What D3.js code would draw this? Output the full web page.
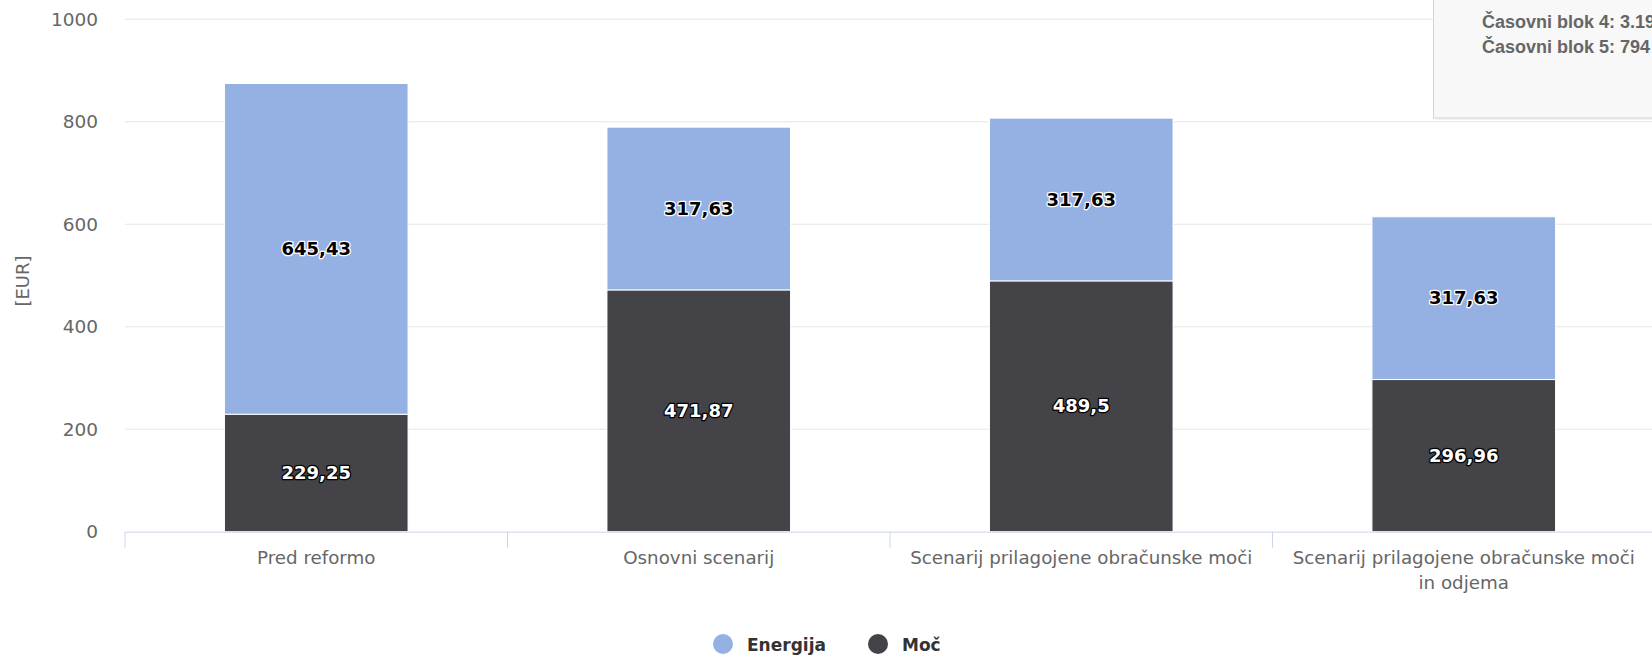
<!DOCTYPE html>
<html>
<head>
<meta charset="utf-8">
<script src="https://cdn.jsdelivr.net/npm/d3@7/dist/d3.min.js"></script>
<style>
  body { margin: 0; background: #ffffff; overflow: hidden; }
  svg { display: block; }
</style>
</head>
<body>
<script>
"use strict";

var categories = [
  "Pred reformo",
  "Osnovni scenarij",
  "Scenarij prilagojene obračunske moči",
  "Scenarij prilagojene obračunske moči in odjema"
];
var seriesNames = ["Energija", "Moč"];
var energija = [645.43, 317.63, 317.63, 317.63];
var moc = [229.25, 471.87, 489.5, 296.96];
var yTicks = [0, 200, 400, 600, 800, 1000];
var yTitle = "[EUR]";
var tooltipLines = ["Časovni blok 4: 3.19", "Časovni blok 5: 794"];
var seriesColors = ["#95b1e4", "#434348"];

(function () {
  var width = 1652, height = 656,
    left = 125, right = 1655, top = 19.3, bottom = 531.7,
    rows, stack, x, y, svg, layers, wrap, legend, tip;

  rows = categories.map(function (c, i) {
    return { cat: c, "Moč": moc[i], "Energija": energija[i] };
  });

  // Moč sits at the bottom, Energija is stacked on top
  stack = d3.stack().keys(["Moč", "Energija"])(rows);

  x = d3.scaleBand().domain(categories).range([left, right]);
  y = d3.scaleLinear().domain([0, 1000]).range([bottom, top]);

  svg = d3.select("body").append("svg")
    .attr("width", width)
    .attr("height", height);

  // grid
  svg.append("g").selectAll("line")
    .data(yTicks.slice(1))
    .join("line")
    .attr("x1", left)
    .attr("x2", right)
    .attr("y1", function (d) { return y(d); })
    .attr("y2", function (d) { return y(d); })
    .attr("stroke", "#e6e6e6")
    .attr("stroke-width", 1);

  // y axis labels
  svg.append("g")
    .attr("transform", "translate(" + (left - 27) + ",0)")
    .call(d3.axisLeft(y).tickValues(yTicks).tickFormat(d3.format("d"))
      .tickSize(0).tickPadding(0))
    .call(function (g) {
      g.select(".domain").remove();
      g.selectAll("text")
        .attr("fill", "#666666")
        .style("font-family", "DejaVu Sans")
        .style("font-size", "18.5px");
    });

  svg.append("text")
    .attr("transform", "translate(29,281) rotate(-90)")
    .attr("text-anchor", "middle")
    .attr("fill", "#666666")
    .style("font-family", "DejaVu Sans")
    .style("font-size", "18px")
    .text(yTitle);

  // bars
  layers = svg.append("g").selectAll("g")
    .data(stack)
    .join("g")
    .attr("fill", function (d) {
      return d.key === "Moč" ? seriesColors[1] : seriesColors[0];
    });

  layers.selectAll("rect")
    .data(function (d) { return d; })
    .join("rect")
    .attr("x", function (d) { return x(d.data.cat) + x.bandwidth() * 0.26; })
    .attr("width", x.bandwidth() * 0.48)
    .attr("y", function (d) { return y(d[1]); })
    .attr("height", function (d) { return y(d[0]) - y(d[1]); })
    .attr("stroke", "#ffffff")
    .attr("stroke-width", 1);

  // data labels
  layers.each(function (s) {
    var dark = s.key === "Moč";
    d3.select(this).selectAll("text")
      .data(s)
      .join("text")
      .attr("x", function (d) { return x(d.data.cat) + x.bandwidth() / 2; })
      .attr("y", function (d) { return (y(d[0]) + y(d[1])) / 2 + 6; })
      .attr("text-anchor", "middle")
      .attr("fill", dark ? "#ffffff" : "#000000")
      .attr("stroke", dark ? "#000000" : "#ffffff")
      .attr("stroke-width", 2.5)
      .attr("stroke-linejoin", "round")
      .attr("paint-order", "stroke")
      .style("font-family", "DejaVu Sans")
      .style("font-weight", "bold")
      .style("font-size", "18px")
      .text(function (d) {
        return String(d.data[s.key]).replace(".", ",");
      });
  });

  // x axis
  svg.append("line")
    .attr("x1", left).attr("x2", right)
    .attr("y1", bottom + 0.5).attr("y2", bottom + 0.5)
    .attr("stroke", "#ccd6eb");

  svg.append("g").selectAll("line")
    .data(categories)
    .join("line")
    .attr("x1", function (d) { return x(d); })
    .attr("x2", function (d) { return x(d); })
    .attr("y1", bottom)
    .attr("y2", bottom + 16)
    .attr("stroke", "#ccd6eb");

  wrap = function (sel, maxWidth) {
    sel.each(function (label) {
      var t = d3.select(this), line = [],
        tspan = t.append("tspan").attr("x", t.attr("x")).attr("dy", 0);
      label.split(" ").forEach(function (w) {
        line.push(w);
        tspan.text(line.join(" "));
        if (tspan.node().getComputedTextLength() > maxWidth && line.length > 1) {
          line.pop();
          tspan.text(line.join(" "));
          line = [w];
          tspan = t.append("tspan").attr("x", t.attr("x")).attr("dy", 25).text(w);
        }
      });
    });
  };

  svg.append("g").selectAll("text")
    .data(categories)
    .join("text")
    .attr("x", function (d) { return x(d) + x.bandwidth() / 2; })
    .attr("y", 564)
    .attr("text-anchor", "middle")
    .attr("fill", "#666666")
    .style("font-family", "DejaVu Sans")
    .style("font-size", "18.25px")
    .call(wrap, 352);

  // legend
  legend = svg.append("g").selectAll("g")
    .data(seriesNames)
    .join("g")
    .attr("transform", function (d, i) {
      return "translate(" + (i === 0 ? 723 : 878) + ",644)";
    });

  legend.append("circle")
    .attr("r", 10)
    .attr("fill", function (d, i) { return seriesColors[i]; });

  legend.append("text")
    .attr("x", 24)
    .attr("y", 7)
    .attr("fill", "#333333")
    .style("font-family", "DejaVu Sans")
    .style("font-weight", "bold")
    .style("font-size", "17px")
    .text(function (d) { return d; });

  // leftover tooltip in the top right corner (cut off by the edge, as in the screenshot)
  tip = svg.append("g");
  tip.append("rect")
    .attr("x", 1436).attr("y", -6)
    .attr("width", 260).attr("height", 126)
    .attr("fill", "#000000").attr("opacity", 0.05);
  tip.append("rect")
    .attr("x", 1433.5).attr("y", -6)
    .attr("width", 260).attr("height", 124)
    .attr("fill", "#f8f8f8")
    .attr("stroke", "#d4d4d4");
  tip.selectAll("text")
    .data(tooltipLines)
    .join("text")
    .attr("x", 1482)
    .attr("y", function (d, i) { return 28 + i * 25; })
    .attr("fill", "#666666")
    .style("font-family", "Liberation Sans")
    .style("font-weight", "bold")
    .style("font-size", "18px")
    .text(function (d) { return d; });
}());
</script>
</body>
</html>
